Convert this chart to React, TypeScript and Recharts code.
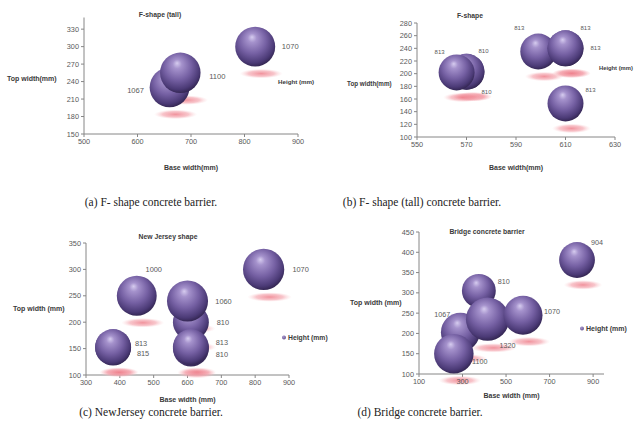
import React from 'react';
import { ScatterChart, Scatter, XAxis, YAxis, ZAxis, Label } from 'recharts';

// (a) F-shape (tall)
const aBase = [660, 680, 820];
const aTop = [230, 255, 300];
const aHeight = [1067, 1100, 1070];
const aXTicks = [500, 600, 700, 800, 900];
const aYTicks = [150, 180, 210, 240, 270, 300, 330];

// (b) F-shape
const bBase = [570, 570, 566, 599, 610, 610, 610];
const bTop = [203, 203, 202, 235, 240, 240, 153];
const bHeight = [810, 810, 813, 813, 813, 813, 813];
const bXTicks = [550, 570, 590, 610, 630];
const bYTicks = [100, 120, 140, 160, 180, 200, 220, 240, 260, 280];

// (c) New Jersey shape
const cBase = [380, 380, 450, 610, 610, 610, 600, 825];
const cTop = [153, 152, 250, 200, 150, 153, 240, 300];
const cHeight = [813, 815, 1000, 810, 810, 813, 1060, 1070];
const cXTicks = [300, 400, 500, 600, 700, 800, 900];
const cYTicks = [100, 150, 200, 250, 300, 350];

// (d) Bridge concrete barrier
const dBase = [290, 260, 375, 415, 578, 826];
const dTop = [203, 150, 305, 235, 245, 381];
const dHeight = [1067, 1100, 810, 1320, 1070, 904];
const dXTicks = [100, 300, 500, 700, 900];
const dYTicks = [100, 150, 200, 250, 300, 350, 400, 450];

const captions = [
  '(a) F- shape concrete barrier.',
  '(b) F- shape (tall) concrete barrier.',
  '(c) NewJersey concrete barrier.',
  '(d) Bridge concrete barrier.',
];

type Pt = { x: number; y: number; z: number; i: number };

const toPoints = (xs: number[], ys: number[], zs: number[]): Pt[] =>
  xs.map((x, i) => ({ x, y: ys[i], z: zs[i], i }));

const SANS = '"Liberation Sans", Arial, sans-serif';
const AXIS = '#868686';

const radiusOf = (p: any) => {
  const r = Math.sqrt(Math.max(p.size ?? 0, 0) / Math.PI);
  return r || (p.width ?? 0) / 2;
};

const Shadow = (p: any) => {
  const r = radiusOf(p);
  return <ellipse cx={p.cx + 6} cy={p.cy + r + 7} rx={r * 1.08} ry={4.8} fill="url(#bubbleShadow)" />;
};

const Sphere = (p: any) => <circle cx={p.cx} cy={p.cy} r={radiusOf(p)} fill="url(#bubbleSphere)" />;

interface PanelProps {
  left: number;
  top: number;
  data: Pt[];
  xDomain: [number, number];
  xTicks: number[];
  yDomain: [number, number];
  yTicks: number[];
  margin: { top: number; right: number; bottom: number; left: number };
  yAxisWidth: number;
  xAxisHeight: number;
  xTitle: string;
  xTitleOffset: number;
  yTitle: string;
  yTitleOffset: number;
  yTitleDy?: number;
  yTitleSize?: number;
  title: string;
  titleX: number;
  titleY: number;
  legendX: number;
  legendY: number;
  legendDot: boolean;
  legendSize: number;
  labelOffsets: [number, number][];
  labelSize: number;
  zMax: number;
}

const Panel: React.FC<PanelProps> = (props) => {
  const W = 317;
  const H = 185;
  const tick = { fontSize: 7.3, fill: '#595959', fontFamily: SANS };
  const titleStyle = { fontSize: 7, fontWeight: 700, fill: '#3a3a3a', fontFamily: SANS };

  const ValueLabel = (p: any) => {
    const idx = p.payload?.i ?? p.i ?? 0;
    const [dx, dy] = props.labelOffsets[idx] ?? [30, 0];
    return (
      <text
        x={p.cx + dx}
        y={p.cy + dy}
        textAnchor="middle"
        dominantBaseline="central"
        fontSize={props.labelSize}
        fill="#595959"
        fontFamily={SANS}
      >
        {p.payload?.z ?? p.z}
      </text>
    );
  };

  return (
    <div style={{ position: 'absolute', left: props.left, top: props.top, width: W, height: H }}>
      <ScatterChart width={W} height={H} margin={props.margin}>
        <XAxis
          type="number"
          dataKey="x"
          domain={props.xDomain}
          ticks={props.xTicks}
          interval={0}
          height={props.xAxisHeight}
          tick={tick}
          tickSize={3}
          stroke={AXIS}
          axisLine={{ stroke: AXIS }}
          tickLine={{ stroke: AXIS }}
        >
          <Label value={props.xTitle} position="insideBottom" offset={props.xTitleOffset} style={titleStyle} />
        </XAxis>
        <YAxis
          type="number"
          dataKey="y"
          domain={props.yDomain}
          ticks={props.yTicks}
          interval={0}
          width={props.yAxisWidth}
          tick={tick}
          tickSize={3}
          stroke={AXIS}
          axisLine={{ stroke: AXIS }}
          tickLine={{ stroke: AXIS }}
        >
          <Label
            value={props.yTitle}
            position="insideLeft"
            angle={0}
            offset={props.yTitleOffset}
            dy={props.yTitleDy ?? 0}
            style={{ ...titleStyle, fontSize: props.yTitleSize ?? 7 }}
          />
        </YAxis>
        <ZAxis type="number" dataKey="z" domain={[0, 1400]} range={[0, props.zMax]} />
        <Scatter data={props.data} shape={Shadow} isAnimationActive={false} />
        <Scatter data={props.data} shape={Sphere} isAnimationActive={false} />
        <Scatter data={props.data} shape={ValueLabel} isAnimationActive={false} />
      </ScatterChart>
      <div
        style={{
          position: 'absolute',
          left: props.titleX,
          top: props.titleY,
          transform: 'translate(-50%, -50%)',
          fontFamily: SANS,
          fontSize: 6.8,
          fontWeight: 700,
          color: '#3a3a3a',
          whiteSpace: 'nowrap',
        }}
      >
        {props.title}
      </div>
      <div
        style={{
          position: 'absolute',
          left: props.legendX,
          top: props.legendY,
          transform: 'translateY(-50%)',
          fontFamily: SANS,
          fontSize: props.legendSize,
          fontWeight: 700,
          color: '#3a3a3a',
          whiteSpace: 'nowrap',
          display: 'flex',
          alignItems: 'center',
          gap: 2,
        }}
      >
        {props.legendDot && (
          <span
            style={{
              display: 'inline-block',
              width: 4,
              height: 4,
              borderRadius: '50%',
              background: 'radial-gradient(circle at 40% 35%, #a896d0, #4f3d78)',
            }}
          />
        )}
        <span>Height (mm)</span>
      </div>
    </div>
  );
};

const captionStyle = (x: number, y: number): React.CSSProperties => ({
  position: 'absolute',
  left: x,
  top: y,
  transform: 'translate(-50%, -50%)',
  fontFamily: '"Liberation Serif", "DejaVu Serif", serif',
  fontSize: 11.5,
  color: '#222',
  whiteSpace: 'nowrap',
});

const App: React.FC = () => {
  return (
    <div style={{ position: 'absolute', left: 0, top: 0, width: 634, height: 428, background: '#fff', overflow: 'hidden' }}>
      <svg width={0} height={0} style={{ position: 'absolute' }}>
        <defs>
          <radialGradient id="bubbleSphere" cx="0.45" cy="0.4" r="0.62" fx="0.42" fy="0.26">
            <stop offset="0" stopColor="#d6ccef" />
            <stop offset="0.18" stopColor="#a592cc" />
            <stop offset="0.55" stopColor="#7560a3" />
            <stop offset="0.85" stopColor="#4b3a76" />
            <stop offset="1" stopColor="#30234d" />
          </radialGradient>
          <radialGradient id="bubbleShadow" cx="0.5" cy="0.5" r="0.5">
            <stop offset="0" stopColor="#ee7f8b" stopOpacity={0.85} />
            <stop offset="0.6" stopColor="#f39ea8" stopOpacity={0.6} />
            <stop offset="1" stopColor="#fbd0d4" stopOpacity={0} />
          </radialGradient>
        </defs>
      </svg>

      <Panel
        left={0}
        top={0}
        data={toPoints(aBase, aTop, aHeight)}
        xDomain={[500, 900]}
        xTicks={aXTicks}
        yDomain={[150, 350]}
        yTicks={aYTicks}
        margin={{ top: 17.5, right: 19, bottom: 11, left: 0 }}
        yAxisWidth={84}
        xAxisHeight={40}
        xTitle="Base width(mm)"
        xTitleOffset={4}
        yTitle="Top width(mm)"
        yTitleOffset={7}
        yTitleDy={3}
        title="F-shape (tall)"
        titleX={160}
        titleY={14}
        legendX={278}
        legendY={81}
        legendDot={false}
        legendSize={6.2}
        labelOffsets={[[-34, 3], [37, 4], [35, 0]]}
        labelSize={7.6}
        zMax={1640}
      />

      <Panel
        left={317}
        top={0}
        data={toPoints(bBase, bTop, bHeight)}
        xDomain={[550, 630]}
        xTicks={bXTicks}
        yDomain={[100, 280]}
        yTicks={bYTicks}
        margin={{ top: 23, right: 19, bottom: 8, left: 0 }}
        yAxisWidth={100}
        xAxisHeight={40}
        xTitle="Base width(mm)"
        xTitleOffset={7.5}
        yTitle="Top width(mm)"
        yTitleOffset={30}
        yTitleDy={4}
        yTitleSize={6.3}
        title="F-shape"
        titleX={153}
        titleY={15}
        legendX={282}
        legendY={68}
        legendDot={false}
        legendSize={5.8}
        labelOffsets={[[17, -21], [20, 20], [-17, -20], [-19, -24], [20, -20], [30, 0], [25, -13]]}
        labelSize={6}
        zMax={1750}
      />

      <Panel
        left={0}
        top={225}
        data={toPoints(cBase, cTop, cHeight)}
        xDomain={[300, 900]}
        xTicks={cXTicks}
        yDomain={[100, 350]}
        yTicks={cYTicks}
        margin={{ top: 18, right: 28, bottom: 2, left: 0 }}
        yAxisWidth={86}
        xAxisHeight={33}
        xTitle="Base width (mm)"
        xTitleOffset={6.5}
        yTitle="Top width (mm)"
        yTitleOffset={13}
        title="New Jersey shape"
        titleX={168}
        titleY={11}
        legendX={282}
        legendY={112}
        legendDot={true}
        legendSize={6.8}
        labelOffsets={[[28, -4], [30, 6], [17, -26], [32, 0], [31, 6], [31, -5], [36, 0], [37, 0]]}
        labelSize={7.4}
        zMax={1750}
      />

      <Panel
        left={317}
        top={225}
        data={toPoints(dBase, dTop, dHeight)}
        xDomain={[100, 950]}
        xTicks={dXTicks}
        yDomain={[100, 450]}
        yTicks={dYTicks}
        margin={{ top: 7, right: 30, bottom: 4, left: 0 }}
        yAxisWidth={102}
        xAxisHeight={32}
        xTitle="Base width (mm)"
        xTitleOffset={8.5}
        yTitle="Top width (mm)"
        yTitleOffset={33}
        title="Bridge concrete barrier"
        titleX={170}
        titleY={6}
        legendX={263}
        legendY={103}
        legendDot={true}
        legendSize={7}
        labelOffsets={[[-18, -18], [26, 8], [25, -9], [20, 26], [29, -4], [20, -17]]}
        labelSize={7.2}
        zMax={1560}
      />

      <div style={captionStyle(151, 202)}>{captions[0]}</div>
      <div style={captionStyle(422, 202)}>{captions[1]}</div>
      <div style={captionStyle(151, 412)}>{captions[2]}</div>
      <div style={captionStyle(420, 412)}>{captions[3]}</div>
    </div>
  );
};

export default App;
